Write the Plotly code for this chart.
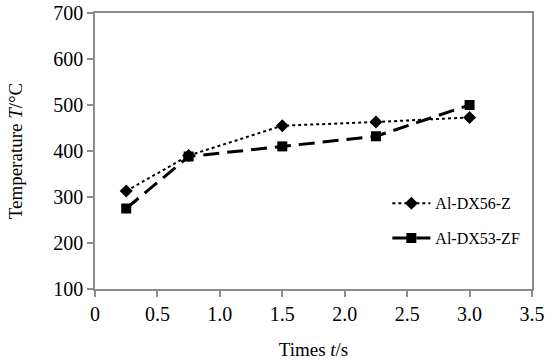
import plotly.graph_objects as go

times = [0.25, 0.75, 1.5, 2.25, 3.0]
dx56_z = [313, 390, 455, 463, 473]
dx53_zf = [275, 388, 410, 432, 500]
x_ticks = [0, 0.5, 1.0, 1.5, 2.0, 2.5, 3.0, 3.5]
x_tick_labels = ["0", "0.5", "1.0", "1.5", "2.0", "2.5", "3.0", "3.5"]
y_ticks = [100, 200, 300, 400, 500, 600, 700]

font = "Liberation Serif, Times New Roman, serif"

fig = go.Figure()
fig.add_trace(go.Scatter(
    x=times, y=dx56_z, name="Al-DX56-Z", mode="lines+markers", legendgroup="a",
    line=dict(color="black", width=2, dash="dot"),
    marker=dict(symbol="diamond", size=10, color="black"),
))
fig.add_trace(go.Scatter(
    x=times, y=dx53_zf, name="Al-DX53-ZF", mode="lines+markers", legendgroup="b",
    line=dict(color="black", width=3, dash="16px,8px"),
    marker=dict(symbol="square", size=10, color="black"),
))

axis_common = dict(
    showline=True, linecolor="#8c8c8c", linewidth=1.5, mirror=True,
    ticks="outside", tickcolor="#8c8c8c", ticklen=6, tickwidth=1.5,
    showgrid=False, zeroline=False, automargin=False,
    ticklabeloverflow="allow",
    tickfont=dict(family=font, size=20, color="black"),
)

fig.update_layout(
    width=550, height=364,
    margin=dict(l=95, r=18, t=13, b=75),
    paper_bgcolor="white", plot_bgcolor="white",
    font=dict(family=font, color="black"),
    showlegend=True,
    legend=dict(
        x=0.669, y=0.372, xanchor="left", yanchor="top",
        bgcolor="rgba(0,0,0,0)", font=dict(family=font, size=16, color="black"),
        itemwidth=38, tracegroupgap=11,
    ),
    xaxis=dict(
        range=[0, 3.5], tickvals=x_ticks, ticktext=x_tick_labels,
        title=dict(text="Times <i>t</i>/s", font=dict(family=font, size=19), standoff=19),
        **axis_common,
    ),
    yaxis=dict(
        range=[100, 700], tickvals=y_ticks,
        title=dict(text="Temperature <i>T</i>/°C", font=dict(family=font, size=19), standoff=26),
        **axis_common,
    ),
)

# remove the browser's default 8px body margin so the figure fills the window
fig.write_html("out.html", config={"displayModeBar": False},
               post_script="document.body.style.margin='0';")
